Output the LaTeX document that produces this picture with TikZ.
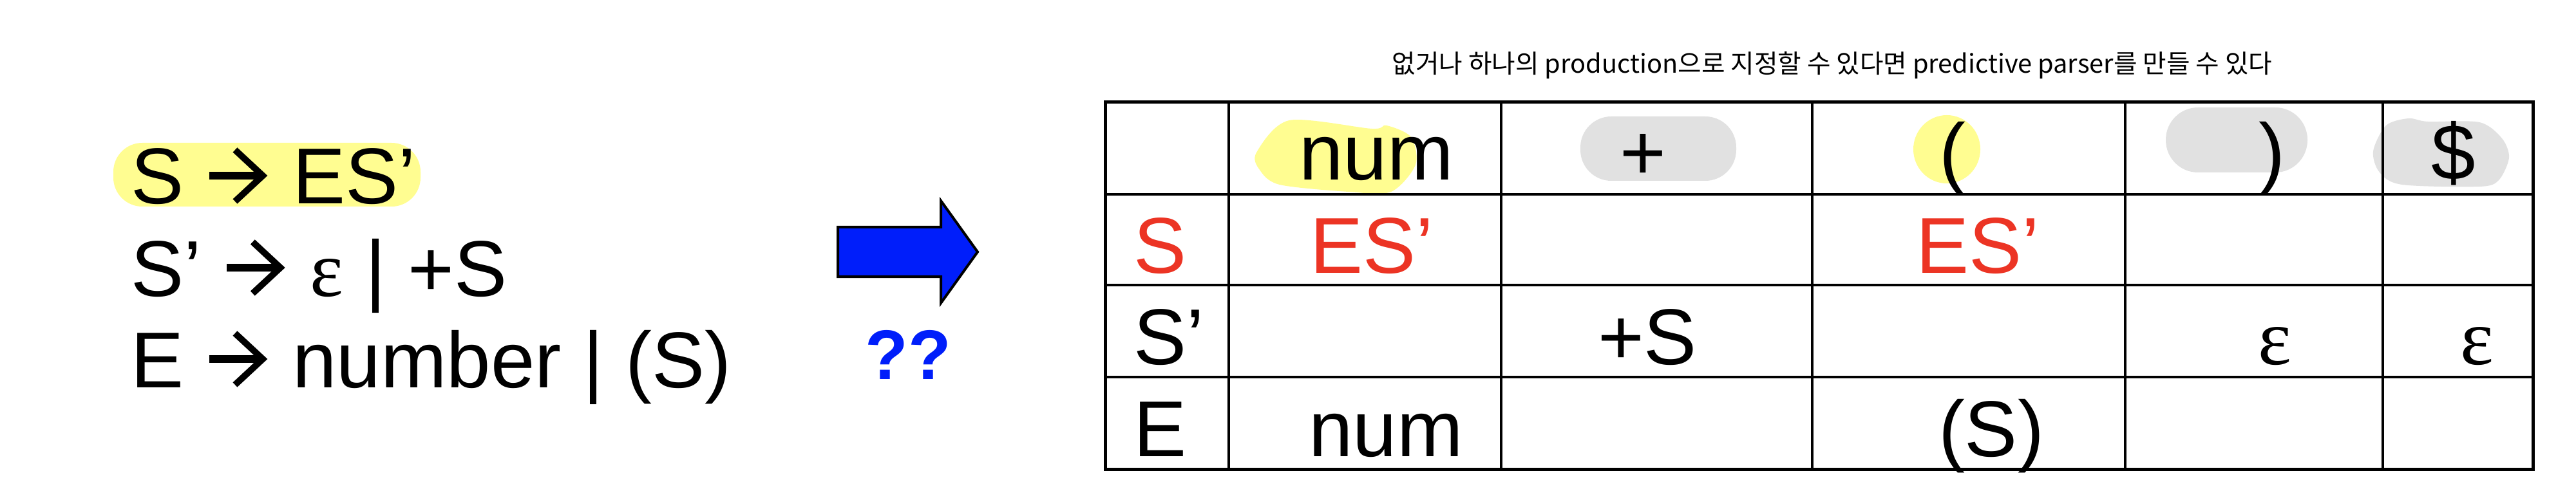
\documentclass[tikz,border=0pt]{standalone}
\usepackage{fontspec}
\setmainfont{Liberation Sans}
\newfontfamily\kofont{Noto Sans CJK KR}
\newfontfamily\epsfont{Liberation Serif}
\usetikzlibrary{calc}
\definecolor{hlyellow}{RGB}{255,253,145}
\definecolor{hlgrey}{RGB}{225,225,225}
\definecolor{tabred}{RGB}{236,52,36}
\definecolor{arrblue}{RGB}{0,30,250}
\def\prodarrow{\tikz[baseline=0pt, x=0.01cm, y=0.01cm]{\useasboundingbox (0,0) rectangle (100,80); \draw[line width=1.15mm] (5,44) -- (82,44); \draw[line width=1mm, miter limit=10] (45,84) -- (88,44) -- (45,4);}}

\begin{document}
\begin{tikzpicture}[x=0.01cm, y=-0.01cm,
	gram/.style={font=\fontsize{35pt}{42pt}\selectfont, anchor=base west, inner sep=0pt},
	cell/.style={font=\fontsize{35pt}{42pt}\selectfont, anchor=base, inner sep=0pt},
	gridline/.style={line width=0.4mm},
	outerline/.style={line width=0.5mm},
	hilite/.style={fill=hlyellow, draw=none},
	greyhl/.style={fill=hlgrey, draw=none}]
			%%%%% START %%%%%
			
			\useasboundingbox (0, 0) rectangle (4000, 746);
			
			\fill[hilite, rounded corners=0.45cm] (176, 222) rectangle (653, 321);
			\node[gram] (rule1) at (203, 317) {S \prodarrow{} ES’};
			\node[gram] (rule2) at (203, 460) {S’ \prodarrow{} {\epsfont ε} | +S};
			\node[gram] (rule3) at (203, 602) {E \prodarrow{} number | (S)};
			
			\draw[line width=0.4mm, fill=arrblue, line join=miter] (1301, 353) -- (1461, 353) -- (1461, 312) -- (1518, 391.5) -- (1461, 471) -- (1461, 430) -- (1301, 430) -- cycle;
			\node[font=\bfseries\fontsize{31pt}{36pt}\selectfont, text=arrblue, anchor=base, inner sep=0pt] (qq) at (1410, 590) {??};
			
			\node[font=\kofont\fontsize{11.3pt}{13pt}\selectfont, anchor=base, inner sep=0pt] (title) at (2845, 114) {없거나 하나의 production으로 지정할 수 있다면 predictive parser를 만들 수 있다};
			
			\fill[hilite] plot[smooth cycle] coordinates {(1951, 237) (2002, 187) (2130, 200) (2153, 195) (2191, 213) (2198, 256) (2160, 298) (2094, 298) (1987, 287) (1956, 264)};
			\fill[greyhl, rounded corners=0.48cm] (2454, 181) rectangle (2696, 281);
			\fill[hilite] (3023, 232) ellipse [x radius=0.52cm, y radius=0.53cm];
			\fill[greyhl, rounded corners=0.5cm] (3363, 167) rectangle (3583, 268);
			\fill[greyhl] plot[smooth cycle] coordinates {(3685, 235) (3705, 195) (3740, 184) (3770, 189) (3850, 190) (3885, 215) (3896, 245) (3880, 280) (3850, 290) (3730, 287) (3695, 268)};
			
			\draw[gridline] (1716, 302) -- (3933, 302);
			\draw[gridline] (1716, 443) -- (3933, 443);
			\draw[gridline] (1716, 586) -- (3933, 586);
			\draw[gridline] (1908, 159) -- (1908, 729);
			\draw[gridline] (2331, 159) -- (2331, 729);
			\draw[gridline] (2814, 159) -- (2814, 729);
			\draw[gridline] (3300, 159) -- (3300, 729);
			\draw[gridline] (3700, 159) -- (3700, 729);
			\draw[outerline] (1716, 159) rectangle (3933, 729);
			
			\node[cell] (hnum) at (2137, 280) {num};
			\node[cell] (hplus) at (2551, 280) {+};
			\node[cell] (hlpar) at (3032, 279) {(};
			\node[cell] (hrpar) at (3528, 279) {)};
			\node[cell] (hdollar) at (3810, 280) {\$};
			
			\node[cell, anchor=base west, text=tabred] (rowS) at (1760, 425) {S};
			\node[cell, text=tabred] (snum) at (2130, 425) {ES’};
			\node[cell, text=tabred] (slpar) at (3071, 425) {ES’};
			
			\node[cell, anchor=base west] (rowSp) at (1760, 567) {S’};
			\node[cell] (spplus) at (2558, 567) {+S};
			\node[cell, font=\epsfont\fontsize{35pt}{42pt}\selectfont] (sprpar) at (3532, 567) {ε};
			\node[cell, font=\epsfont\fontsize{35pt}{42pt}\selectfont] (spdollar) at (3846, 567) {ε};
			
			\node[cell, anchor=base west] (rowE) at (1760, 709) {E};
			\node[cell] (enum) at (2152, 709) {num};
			\node[cell] (elpar) at (3092, 709) {(S)};
			
			%%%%% END %%%%%
		\end{tikzpicture}
\end{document}
